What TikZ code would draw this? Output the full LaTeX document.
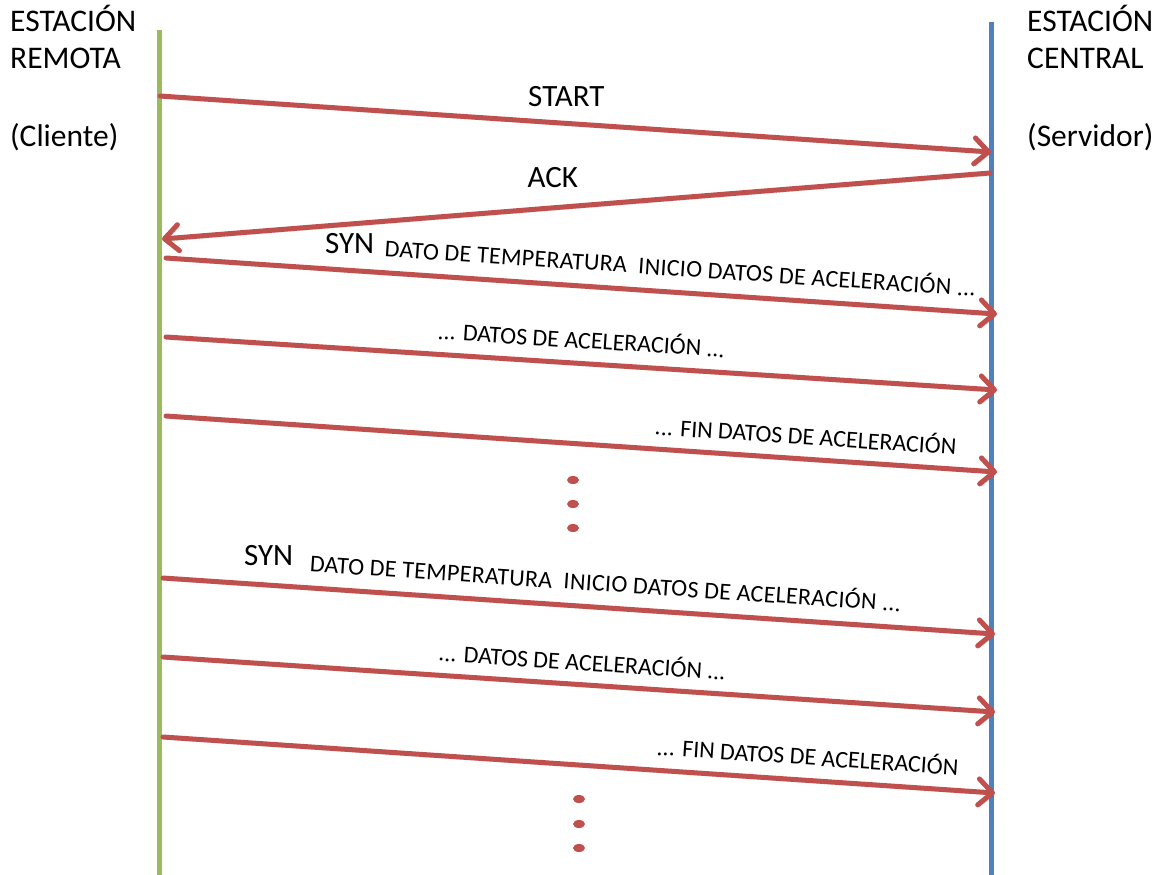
\documentclass[tikz,border=0pt]{standalone}
\usepackage{fontspec}
\setmainfont{Carlito}
\usetikzlibrary{arrows.meta}
\definecolor{clientgreen}{HTML}{9BBB59}
\definecolor{serverblue}{HTML}{4F81BD}
\definecolor{msgred}{HTML}{C0504D}
\begin{document}
\begin{tikzpicture}[x=1pt,y=-1pt,
  big/.style={font=\fontsize{31.5}{37}\selectfont, inner sep=0pt},
  title/.style={big, anchor=base west},
  lifeline/.style={line width=5pt},
  msg/.style={draw=msgred, line width=5pt, line cap=round,
    -{Straight Barb[length=14pt,width=26pt,round]},
    preaction={draw=black, opacity=0.15, transform canvas={shift={(1.5pt,-2.5pt)}}}},
  lbl/.style={anchor=south, inner sep=0pt, text=black},
  biglbl/.style={lbl, font=\fontsize{31}{36}\selectfont},
  smalllbl/.style={lbl, sloped, font=\fontsize{24}{29}\selectfont},
  widelbl/.style={smalllbl, font=\fontsize{24}{29}\selectfont\addfontfeature{LetterSpace=1.3}},
  dot/.style={fill=msgred}
]
\useasboundingbox (0,0) rectangle (1164,875);

% station titles
\node[title] (tl1) at (10,32) {ESTACIÓN};
\node[title] (tl2) at (10,68) {REMOTA};
\node[title] (tl3) at (10,146) {(Cliente)};
\node[title] (tr1) at (1027,32) {ESTACIÓN};
\node[title] (tr2) at (1027,68) {CENTRAL};
\node[title] (tr3) at (1027,146) {(Servidor)};

% lifelines
\coordinate (cTop) at (159,30);
\coordinate (cBot) at (159,875);
\coordinate (sTop) at (991,22);
\coordinate (sBot) at (991,875);
\draw[lifeline, clientgreen] (cTop) -- (cBot);
\draw[lifeline, serverblue] (sTop) -- (sBot);

% message end points
\coordinate (c1) at (160,96);   \coordinate (s1) at (991,152);
\coordinate (s2) at (990,173);  \coordinate (c2) at (162,239);
\coordinate (c3) at (166,258);  \coordinate (s3) at (997,314);
\coordinate (c4) at (166,337);  \coordinate (s4) at (997,390);
\coordinate (c5) at (166,416);  \coordinate (s5) at (997,472);
\coordinate (c6) at (163,578);  \coordinate (s6) at (995,634);
\coordinate (c7) at (163,657);  \coordinate (s7) at (995,712);
\coordinate (c8) at (163,737);  \coordinate (s8) at (995,793);

% handshake
\draw[msg] (c1) -- node[biglbl, pos=0.489, outer ysep=17pt] (lstart) {START} (s1);
\draw[msg] (s2) -- node[biglbl, pos=0.528, outer ysep=20pt] (lack) {ACK} (c2);

% first data block
\draw[msg] (c3)
  -- node[biglbl, pos=0.221, outer ysep=17pt] (lsyn1) {SYN}
     node[widelbl, pos=0.617, outer ysep=16pt] (ld1) {DATO DE TEMPERATURA\ \ INICIO DATOS DE ACELERACIÓN ...} (s3);
\draw[msg] (c4) -- node[smalllbl, pos=0.498, outer ysep=15pt] (ld2) {... DATOS DE ACELERACIÓN ...} (s4);
\draw[msg] (c5) -- node[smalllbl, pos=0.768, outer ysep=14pt] (ld3) {... FIN DATOS DE ACELERACIÓN} (s5);

\fill[dot] (573,480) ellipse [x radius=6, y radius=4];
\fill[dot] (573,504) ellipse [x radius=6, y radius=4];
\fill[dot] (573,528) ellipse [x radius=6, y radius=4];

% second data block
\draw[msg] (c6)
  -- node[biglbl, pos=0.127, outer ysep=19pt] (lsyn2) {SYN}
     node[widelbl, pos=0.530, outer ysep=16pt] (ld4) {DATO DE TEMPERATURA\ \ INICIO DATOS DE ACELERACIÓN ...} (s6);
\draw[msg] (c7) -- node[smalllbl, pos=0.502, outer ysep=14pt] (ld5) {... DATOS DE ACELERACIÓN ...} (s7);
\draw[msg] (c8) -- node[smalllbl, pos=0.773, outer ysep=15pt] (ld6) {... FIN DATOS DE ACELERACIÓN} (s8);

\fill[dot] (579,799) ellipse [x radius=6, y radius=4];
\fill[dot] (579,824) ellipse [x radius=6, y radius=4];
\fill[dot] (579,848) ellipse [x radius=6, y radius=4];
\end{tikzpicture}
\end{document}
